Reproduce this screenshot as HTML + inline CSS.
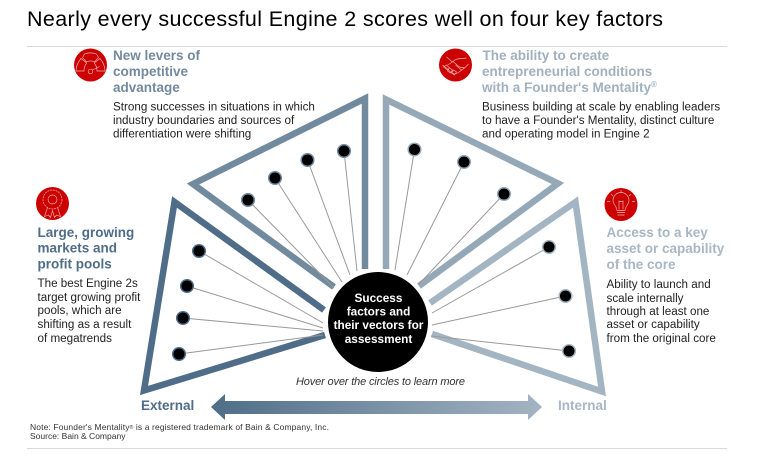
<!DOCTYPE html>
<html><head><meta charset="utf-8"><style>
html,body{margin:0;padding:0;background:#fff}
svg{display:block}
text{font-family:"Liberation Sans",sans-serif}
.h{font-weight:700;font-size:13.5px}
.b{font-size:11.65px;fill:#222}
.c{font-weight:700;font-size:11.8px;fill:#fff;text-anchor:middle}
.i{fill:none;stroke:#f0b8b8;stroke-width:.65}
</style></head><body>
<svg width="761" height="464" viewBox="0 0 761 464" xmlns="http://www.w3.org/2000/svg">
<defs><linearGradient id="g" x1="211" x2="542" y1="0" y2="0" gradientUnits="userSpaceOnUse"><stop offset="0" stop-color="#4f6d88"/><stop offset="1" stop-color="#a3b4c2"/></linearGradient></defs>
<rect width="761" height="464" fill="#fff"/>
<text x="27" y="26" font-size="21.5" fill="#000" textLength="636" lengthAdjust="spacing">Nearly every successful Engine 2 scores well on four key factors</text>
<rect x="27" y="46" width="700" height="1" fill="#d9d9d9"/>
<rect x="27" y="448" width="700" height="1" fill="#d9d9d9"/>

<g fill="none" stroke-width="6.5" stroke-linejoin="miter" stroke-miterlimit="10">
<polyline points="334,287 193,184 365,98.500 365,269" stroke="#728a9e"/>
<polyline points="324,310 174.500,202 144,390.500 325,335" stroke="#4f6d88"/>
<polyline points="419,286 558,183.500 386,99.500 386,269" stroke="#95a8b8"/>
<polyline points="430,303 575.500,202 602,391.500 432,334" stroke="#a3b4c2"/>
</g>

<g stroke="#999" stroke-width="1" fill="none">
<path d="M248,200L334,288M275,178L342,282M307.500,160L350,275M344,151L357,271"/>
<path d="M414.500,149.500L395,270M464,162L407,275M504,194L419,284"/>
<path d="M549,247L432,313M565.500,296L432,325M569,351L431,336"/>
<path d="M199,251L323,323M187,286L323,328M183,318L323,331M179,354L323,335"/>
</g>

<g fill="#000" stroke-width="1.5">
<g stroke="#728a9e"><circle cx="248" cy="200" r="6.300"/><circle cx="275" cy="178" r="6.300"/><circle cx="307.500" cy="160" r="6.300"/><circle cx="344" cy="151" r="6.300"/></g>
<g stroke="#95a8b8"><circle cx="414.500" cy="149.500" r="6.300"/><circle cx="464" cy="162" r="6.300"/><circle cx="504" cy="194" r="6.300"/></g>
<g stroke="#a3b4c2"><circle cx="549" cy="247" r="6.300"/><circle cx="565.500" cy="296" r="6.300"/><circle cx="569" cy="351" r="6.300"/></g>
<g stroke="#4f6d88"><circle cx="199" cy="251" r="6.300"/><circle cx="187" cy="286" r="6.300"/><circle cx="183" cy="318" r="6.300"/><circle cx="179" cy="354" r="6.300"/></g>
</g>

<circle cx="378" cy="322" r="50" fill="#000"/>
<text class="c" x="378.500" y="302">Success</text>
<text class="c" x="378.500" y="315.500">factors and</text>
<text class="c" x="378.500" y="329">their vectors for</text>
<text class="c" x="378.500" y="343">assessment</text>

<text x="296" y="385" font-size="11" font-style="italic" fill="#333" textLength="169" lengthAdjust="spacing">Hover over the circles to learn more</text>

<path d="M211,407L225,394V401H528V394L542,407L528,420V414H225V420Z" fill="url(#g)"/>
<text class="h" x="141" y="410" fill="#4f6d88">External</text>
<text class="h" x="558" y="410" fill="#a8b7c4">Internal</text>

<text x="30" y="430" font-size="8.500" fill="#333" textLength="299" lengthAdjust="spacing">Note: Founder's Mentality<tspan font-size="5" dy="-1">®</tspan><tspan dy="1"> is a registered trademark of Bain &amp; Company, Inc.</tspan></text>
<text x="30" y="439" font-size="8.500" fill="#333">Source: Bain &amp; Company</text>

<text class="h" x="113" y="60" fill="#728a9e">New levers of</text>
<text class="h" x="113" y="76" fill="#728a9e">competitive</text>
<text class="h" x="113" y="92" fill="#728a9e">advantage</text>
<text class="b" x="113" y="110.500">Strong successes in situations in which</text>
<text class="b" x="113" y="124">industry boundaries and sources of</text>
<text class="b" x="113" y="137.500">differentiation were shifting</text>

<text class="h" x="482.500" y="60" fill="#a0b1c0">The ability to create</text>
<text class="h" x="482" y="76" fill="#a0b1c0">entrepreneurial conditions</text>
<text class="h" x="482" y="92" fill="#a0b1c0">with a Founder's Mentality<tspan font-size="8" dy="-5">®</tspan></text>
<text class="b" x="482" y="110.500">Business building at scale by enabling leaders</text>
<text class="b" x="482" y="124">to have a Founder's Mentality, distinct culture</text>
<text class="b" x="482" y="137.500">and operating model in Engine 2</text>

<text class="h" x="37.500" y="237" fill="#4f6d88">Large, growing</text>
<text class="h" x="37.500" y="252.500" fill="#4f6d88">markets and</text>
<text class="h" x="37.500" y="268.500" fill="#4f6d88">profit pools</text>
<text class="b" x="37.500" y="287">The best Engine 2s</text>
<text class="b" x="37.500" y="301">target growing profit</text>
<text class="b" x="37.500" y="314">pools, which are</text>
<text class="b" x="37.500" y="328">shifting as a result</text>
<text class="b" x="37.500" y="342">of megatrends</text>

<text class="h" x="606.500" y="237" fill="#a8b7c4">Access to a key</text>
<text class="h" x="606.500" y="253" fill="#a8b7c4">asset or capability</text>
<text class="h" x="606.500" y="269" fill="#a8b7c4">of the core</text>
<text class="b" x="606.500" y="288">Ability to launch and</text>
<text class="b" x="606.500" y="302">scale internally</text>
<text class="b" x="606.500" y="315">through at least one</text>
<text class="b" x="606.500" y="328">asset or capability</text>
<text class="b" x="606.500" y="342">from the original core</text>

<!-- gauge -->
<circle cx="90.500" cy="65" r="16.500" fill="#cc0000"/>
<g class="i" transform="translate(90.500,65)">
<path d="M-14.500,6H-6.500C-6.500,3 -5.500,0 -3.800,-2L-9.500,-6.500C-12.700,-2.700 -14.500,1.500 -14.500,6Z"/>
<path d="M14.500,6H6.500C6.500,3 5.500,0 3.800,-2L9.500,-6.500C12.700,-2.700 14.500,1.500 14.500,6Z"/>
<path d="M-8,-7.500L-6,-11C-2,-12.500 2,-12.500 6,-11L8,-7.500L4,-3C1,-4.500 -1,-4.500 -4,-3Z"/>
<circle cx="0" cy="6.500" r="2.300"/><path d="M2,5L9,1.500"/>
</g>
<!-- handshake -->
<circle cx="455.500" cy="65" r="16.500" fill="#cc0000"/>
<g class="i" transform="translate(455.500,65)">
<path d="M-9,-8L-3,-3L-8,0M-3,-3C0,-7 4,-6 11,-7M-13,0L-9,3L-5,7L-1,9L2,8L5,6L9,3L13,-1M-2,-3L4,2L9,3M0,0L6,5"/>
<path d="M-12,2L-8,5L-6,3L-9,0ZM-8,6L-5,8L-3,5L-6,3ZM-4,8L-1,10L1,7L-2,5Z"/>
</g>
<!-- rosette -->
<circle cx="52.500" cy="203.500" r="16.500" fill="#cc0000"/>
<g class="i" transform="translate(52.500,203.500)">
<circle cx="0" cy="-4" r="9.500" stroke-dasharray="2 .8"/>
<circle cx="0" cy="-4" r="4.500"/>
<path d="M-5,4L-8,13L-4,11.500L-2,14L0,7L2,14L4,11.500L8,13L5,4"/>
</g>
<!-- bulb -->
<circle cx="621" cy="204.500" r="16.500" fill="#cc0000"/>
<g class="i" transform="translate(621,204.500)">
<path d="M-4,6C-4,2 -8,0 -8,-4A8,8 0 0 1 8,-4C8,0 4,2 4,6ZM-4,8H4M-3.500,10.500H3.500M-2,5V-4M2,5V-4M-2,-3H2M0,-14.500V-11.500M-10,-10.500L-8,-8.500M10,-10.500L8,-8.500M-14,-3H-11M14,-3H11"/>
</g>
</svg>
</body></html>
